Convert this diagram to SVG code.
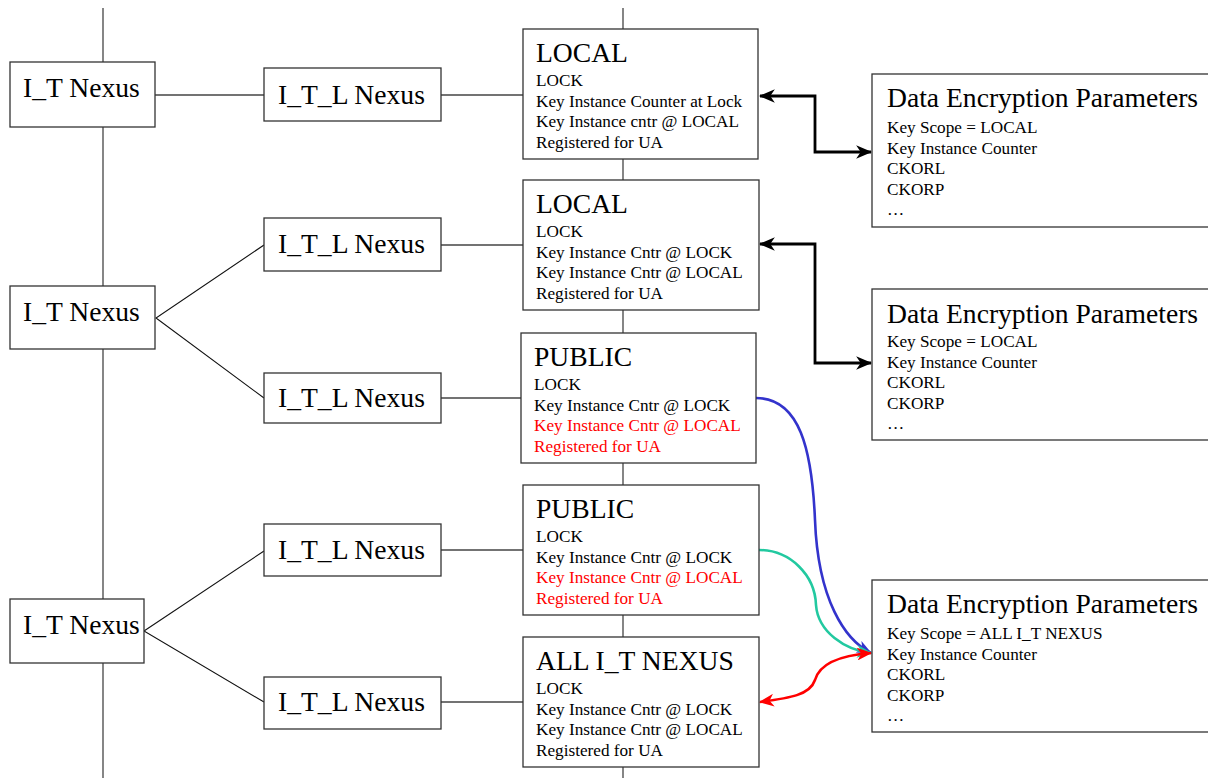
<svg xmlns="http://www.w3.org/2000/svg" width="1208" height="778" viewBox="0 0 1208 778">
<style>
.box{fill:#fff;stroke:#333;stroke-width:1.3}
.ln{stroke:#444;stroke-width:1.3;fill:none}
.dg{stroke:#111;stroke-width:1.1;fill:none}
text{font-family:"Liberation Serif","Times New Roman",serif;fill:#000}
.t{font-size:27.6px}
.s{font-size:17.2px}
.red{fill:#ff0000}
.blk{stroke:#000;stroke-width:2.8;fill:none}
</style>
<defs>
<marker id="ab" viewBox="0 0 14 12" refX="13" refY="6" markerWidth="16" markerHeight="14" markerUnits="userSpaceOnUse" orient="auto-start-reverse"><path d="M0,0 L14,6 L0,12 L4,6 z" fill="#000"/></marker>
<marker id="abl" viewBox="0 0 14 12" refX="13" refY="6" markerWidth="15" markerHeight="13" markerUnits="userSpaceOnUse" orient="auto"><path d="M0,0 L14,6 L0,12 L4,6 z" fill="#3333cc"/></marker>
<marker id="agr" viewBox="0 0 14 12" refX="13" refY="6" markerWidth="15" markerHeight="13" markerUnits="userSpaceOnUse" orient="auto"><path d="M0,0 L14,6 L0,12 L4,6 z" fill="#22c9a0"/></marker>
<marker id="ard" viewBox="0 0 14 12" refX="13" refY="6" markerWidth="15" markerHeight="13" markerUnits="userSpaceOnUse" orient="auto-start-reverse"><path d="M0,0 L14,6 L0,12 L4,6 z" fill="#ff0000"/></marker>
</defs>
<g id="connectors">
<line class="ln" x1="103" y1="8" x2="103" y2="778"/>
<line class="ln" x1="623" y1="8" x2="623" y2="778"/>
<line class="ln" x1="155" y1="95" x2="264" y2="95"/>
<line class="ln" x1="441" y1="95" x2="523" y2="95"/>
<line class="ln" x1="441" y1="245" x2="523" y2="245"/>
<line class="ln" x1="441" y1="398" x2="521" y2="398"/>
<line class="ln" x1="441" y1="550" x2="523" y2="550"/>
<line class="ln" x1="441" y1="702" x2="523" y2="702"/>
<polyline class="dg" points="264,245 156,318 264,398"/>
<polyline class="dg" points="264,551 144,631 264,702"/>
<path class="blk" d="M760,96 H815 V152 H871" marker-start="url(#ab)" marker-end="url(#ab)"/>
<path class="blk" d="M760,244 H815 V363 H871" marker-start="url(#ab)" marker-end="url(#ab)"/>
<path d="M756,398 C800,398 812,450 815,520 C818,600 845,640 871,653" stroke="#3333cc" stroke-width="2.6" fill="none" marker-end="url(#abl)"/>
<path d="M759,550 C790,550 815,575 816,605 C818,632 845,650 871,653" stroke="#22c9a0" stroke-width="2.6" fill="none" marker-end="url(#agr)"/>
<path d="M760,702 C790,698 810,695 815,680 C820,662 845,655 871,653" stroke="#ff0000" stroke-width="2.6" fill="none" marker-start="url(#ard)" marker-end="url(#ard)"/>
</g>
<g id="it1"><rect class="box" x="10" y="62" width="145" height="65"/><text class="t" x="23" y="97">I_T Nexus</text></g>
<g id="it2"><rect class="box" x="10" y="286" width="145" height="63"/><text class="t" x="23" y="321">I_T Nexus</text></g>
<g id="it3"><rect class="box" x="10" y="599" width="134" height="64"/><text class="t" x="23" y="634">I_T Nexus</text></g>
<g id="itl1"><rect class="box" x="264" y="68" width="177" height="53"/><text class="t" x="278" y="104">I_T_L Nexus</text></g>
<g id="itl2"><rect class="box" x="264" y="218" width="177" height="53"/><text class="t" x="278" y="253">I_T_L Nexus</text></g>
<g id="itl3"><rect class="box" x="264" y="373" width="177" height="50"/><text class="t" x="278" y="407">I_T_L Nexus</text></g>
<g id="itl4"><rect class="box" x="264" y="524" width="177" height="52"/><text class="t" x="278" y="559">I_T_L Nexus</text></g>
<g id="itl5"><rect class="box" x="264" y="677" width="177" height="52"/><text class="t" x="278" y="711">I_T_L Nexus</text></g>
<g id="local1"><rect class="box" x="523" y="29" width="235" height="130"/>
<text class="t" x="536" y="62">LOCAL</text>
<text class="s" x="536" y="86">LOCK</text>
<text class="s" x="536" y="107">Key Instance Counter at Lock</text>
<text class="s" x="536" y="127">Key Instance cntr @ LOCAL</text>
<text class="s" x="536" y="148">Registered for UA</text></g>
<g id="local2"><rect class="box" x="523" y="180" width="236" height="130"/>
<text class="t" x="536" y="213">LOCAL</text>
<text class="s" x="536" y="237">LOCK</text>
<text class="s" x="536" y="258">Key Instance Cntr @ LOCK</text>
<text class="s" x="536" y="278">Key Instance Cntr @ LOCAL</text>
<text class="s" x="536" y="299">Registered for UA</text></g>
<g id="public1"><rect class="box" x="521" y="333" width="235" height="130"/>
<text class="t" x="534" y="366">PUBLIC</text>
<text class="s" x="534" y="390">LOCK</text>
<text class="s" x="534" y="411">Key Instance Cntr @ LOCK</text>
<text class="s red" x="534" y="431">Key Instance Cntr @ LOCAL</text>
<text class="s red" x="534" y="452">Registered for UA</text></g>
<g id="public2"><rect class="box" x="523" y="485" width="236" height="130"/>
<text class="t" x="536" y="518">PUBLIC</text>
<text class="s" x="536" y="542">LOCK</text>
<text class="s" x="536" y="563">Key Instance Cntr @ LOCK</text>
<text class="s red" x="536" y="583">Key Instance Cntr @ LOCAL</text>
<text class="s red" x="536" y="604">Registered for UA</text></g>
<g id="allit"><rect class="box" x="523" y="637" width="236" height="130"/>
<text class="t" x="536" y="670">ALL I_T NEXUS</text>
<text class="s" x="536" y="694">LOCK</text>
<text class="s" x="536" y="715">Key Instance Cntr @ LOCK</text>
<text class="s" x="536" y="735">Key Instance Cntr @ LOCAL</text>
<text class="s" x="536" y="756">Registered for UA</text></g>
<g id="dep1"><rect class="box" x="872" y="74" width="345" height="153"/>
<text class="t" x="887" y="107">Data Encryption Parameters</text>
<text class="s" x="887" y="133">Key Scope = LOCAL</text>
<text class="s" x="887" y="154">Key Instance Counter</text>
<text class="s" x="887" y="174">CKORL</text>
<text class="s" x="887" y="195">CKORP</text>
<text class="s" x="887" y="215">…</text></g>
<g id="dep2"><rect class="box" x="872" y="289" width="345" height="151"/>
<text class="t" x="887" y="323">Data Encryption Parameters</text>
<text class="s" x="887" y="347">Key Scope = LOCAL</text>
<text class="s" x="887" y="368">Key Instance Counter</text>
<text class="s" x="887" y="388">CKORL</text>
<text class="s" x="887" y="409">CKORP</text>
<text class="s" x="887" y="429">…</text></g>
<g id="dep3"><rect class="box" x="872" y="580" width="345" height="152"/>
<text class="t" x="887" y="613">Data Encryption Parameters</text>
<text class="s" x="887" y="639">Key Scope = ALL I_T NEXUS</text>
<text class="s" x="887" y="660">Key Instance Counter</text>
<text class="s" x="887" y="680">CKORL</text>
<text class="s" x="887" y="701">CKORP</text>
<text class="s" x="887" y="721">…</text></g>
</svg>
